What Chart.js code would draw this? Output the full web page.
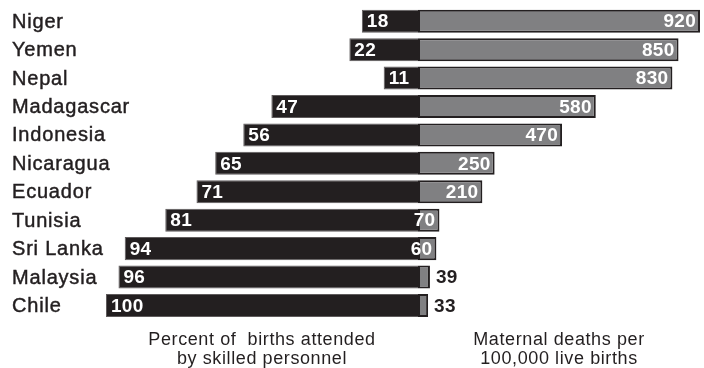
<!DOCTYPE html>
<html>
<head>
<meta charset="utf-8">
<script src="https://cdn.jsdelivr.net/npm/chart.js@4/dist/chart.umd.min.js"></script>
<style>
  html, body { margin: 0; padding: 0; background: #ffffff; }
  #wrap { position: relative; width: 704px; height: 368px; }
</style>
</head>
<body>
<div id="wrap"><canvas id="chart" width="704" height="368"></canvas></div>
<script>
// Skilled birth attendance vs. maternal mortality, by country
const countries = ['Niger', 'Yemen', 'Nepal', 'Madagascar', 'Indonesia', 'Nicaragua',
                   'Ecuador', 'Tunisia', 'Sri Lanka', 'Malaysia', 'Chile'];
// Percent of births attended by skilled personnel
const attended = [18, 22, 11, 47, 56, 65, 71, 81, 94, 96, 100];
// Maternal deaths per 100,000 live births
const deaths = [920, 850, 830, 580, 470, 250, 210, 70, 60, 39, 33];

const attendedTitle = ['Percent of  births attended', 'by skilled personnel'];
const deathsTitle = ['Maternal deaths per', '100,000 live births'];

const INK = '#231f20';
const GREY = '#808082';
const FONT = '"Liberation Sans", Arial, Helvetica, sans-serif';

// Slightly open tracking for the axis titles
const tracking = {
  id: 'tracking',
  beforeDraw(chart) { chart.ctx.letterSpacing = '0.6px'; },
  afterDraw(chart) { chart.ctx.letterSpacing = '0px'; }
};

// Country names, left-aligned at the page margin, one per category row
const countryLabels = {
  id: 'countryLabels',
  afterDraw(chart) {
    const ctx = chart.ctx;
    const yScale = chart.scales.y;
    ctx.save();
    ctx.letterSpacing = '0.8px';
    ctx.font = '20px ' + FONT;
    ctx.fillStyle = INK;
    ctx.strokeStyle = INK;
    ctx.lineWidth = 0.45;
    ctx.textAlign = 'left';
    ctx.textBaseline = 'middle';
    chart.data.labels.forEach((name, i) => {
      const y = yScale.getPixelForTick(i) + 1;
      ctx.fillText(name, chart.options.layout.padding.left, y);
      ctx.strokeText(name, chart.options.layout.padding.left, y);
    });
    ctx.restore();
  }
};

// Writes each bar's value at its outer end; very short bars get the number outside
const valueLabels = {
  id: 'valueLabels',
  afterDatasetsDraw(chart) {
    const ctx = chart.ctx;
    ctx.save();
    ctx.letterSpacing = '0.3px';
    ctx.font = 'bold 19px ' + FONT;
    ctx.textBaseline = 'middle';
    chart.getDatasetMeta(0).data.forEach((bar, i) => {
      ctx.fillStyle = '#ffffff';
      ctx.textAlign = 'left';
      ctx.fillText(String(attended[i]), bar.x + 5, bar.y + 1);
    });
    chart.getDatasetMeta(1).data.forEach((bar, i) => {
      const txt = String(deaths[i]);
      const w = ctx.measureText(txt).width;
      const barW = bar.x - bar.base;
      if (w <= barW + 8) {
        ctx.fillStyle = '#ffffff';
        ctx.textAlign = 'right';
        ctx.fillText(txt, bar.x - 4, bar.y + 1);
      } else {
        ctx.fillStyle = INK;
        ctx.textAlign = 'left';
        ctx.fillText(txt, bar.x + 6, bar.y + 1);
      }
    });
    ctx.restore();
  }
};

const bottomAxis = (title, extra) => Object.assign({
  position: 'bottom',
  stack: 'bottomAxes',
  min: 0,
  grid: { display: false, drawTicks: false },
  border: { display: false },
  ticks: { display: false },
  title: {
    display: true,
    text: title,
    color: INK,
    font: { family: FONT, size: 18, lineHeight: 1.05 },
    padding: { top: 10.5, bottom: 0 }
  }
}, extra);

new Chart(document.getElementById('chart'), {
  type: 'bar',
  data: {
    labels: countries,
    datasets: [
      {
        label: 'Percent of births attended by skilled personnel',
        data: attended,
        xAxisID: 'xL',
        grouped: false,
        backgroundColor: INK,
        borderColor: '#5f5b5c',
        borderWidth: 1,
        categoryPercentage: 1,
        barPercentage: 0.81
      },
      {
        label: 'Maternal deaths per 100,000 live births',
        data: deaths,
        xAxisID: 'xR',
        grouped: false,
        backgroundColor: GREY,
        borderColor: INK,
        borderWidth: 2,
        borderSkipped: false,
        categoryPercentage: 1,
        barPercentage: 0.81
      }
    ]
  },
  options: {
    indexAxis: 'y',
    responsive: false,
    animation: false,
    layout: { padding: { left: 12, right: 4, top: 7, bottom: 0 } },
    plugins: {
      legend: { display: false },
      tooltip: { enabled: false }
    },
    scales: {
      y: {
        position: 'left',
        grid: { display: false, drawTicks: false },
        border: { display: false },
        ticks: { display: false },
        afterFit(scale) { scale.width = 94; }
      },
      xL: bottomAxis(attendedTitle, { stackWeight: 312, reverse: true, max: 100 }),
      xR: bottomAxis(deathsTitle, { stackWeight: 282, max: 920 })
    }
  },
  plugins: [tracking, valueLabels, countryLabels]
});
</script>
</body>
</html>
